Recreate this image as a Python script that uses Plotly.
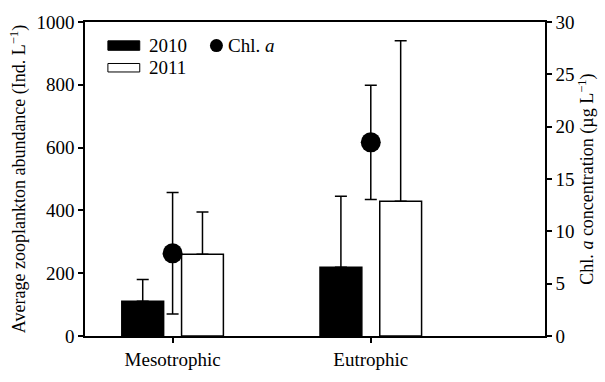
import plotly.graph_objects as go

categories = ["Mesotrophic", "Eutrophic"]
abund_2010 = [111, 219]
abund_2010_err = [69, 226]
abund_2011 = [260, 429]
abund_2011_err = [135, 511]
chl_a = [7.9, 18.5]
chl_a_err = [5.8, 5.45]

W, H = 605, 382
L, R, T, B = 85, 547, 17, 350
FONT = "Liberation Serif"
TICK_SIZE = 19
TITLE_SIZE = 18

def px(x):
    return (x - L) / (R - L)

def py(y):
    return (B - y) / (B - T)

fig = go.Figure()
fig.add_trace(go.Bar(
    x=categories, y=abund_2010, name="2010",
    marker=dict(color="black", line=dict(color="black", width=1.5)),
    error_y=dict(type="data", array=abund_2010_err, symmetric=False,
                 arrayminus=[0, 0], color="black", thickness=1.5, width=6),
    showlegend=False,
))
fig.add_trace(go.Bar(
    x=categories, y=abund_2011, name="2011",
    marker=dict(color="white", line=dict(color="black", width=1.5)),
    error_y=dict(type="data", array=abund_2011_err, symmetric=False,
                 arrayminus=[0, 0], color="black", thickness=1.5, width=6),
    showlegend=False,
))
fig.add_trace(go.Scatter(
    x=categories, y=chl_a, name="Chl. a", yaxis="y2", mode="markers",
    marker=dict(color="black", size=20),
    error_y=dict(type="data", array=chl_a_err, color="black", thickness=1.5, width=6),
    showlegend=False,
))

axis_common = dict(showline=True, linecolor="black", linewidth=1.5, ticks="outside",
                   ticklen=5, tickwidth=1.5, tickcolor="black", showgrid=False,
                   zeroline=False, tickfont=dict(family=FONT, size=TICK_SIZE, color="black"))

fig.update_layout(
    width=W, height=H,
    margin=dict(l=L, r=W - R, t=T, b=H - B),
    paper_bgcolor="white", plot_bgcolor="white",
    barmode="group", bargap=0.397, bargroupgap=0.3,
    font=dict(family=FONT, size=TICK_SIZE, color="black"),
    xaxis=dict(**axis_common, mirror=True, range=[-0.442, 1.879]),
    yaxis=dict(**axis_common, range=[0, 1000], tickvals=[0, 200, 400, 600, 800, 1000],
               title=dict(text="Average zooplankton abundance (Ind. L<sup>−1</sup>)",
                          font=dict(family=FONT, size=TITLE_SIZE), standoff=6)),
    yaxis2=dict(**axis_common, overlaying="y", side="right", range=[0, 30],
                tickvals=[0, 5, 10, 15, 20, 25, 30],
                title=dict(text="Chl. <i>a</i> concentration (µg L<sup>−1</sup>)",
                           font=dict(family=FONT, size=TITLE_SIZE), standoff=6)),
)

# manual legend
shapes = [
    dict(type="rect", xref="paper", yref="paper", x0=px(108), x1=px(140), y0=py(47), y1=py(37),
         fillcolor="black", line=dict(color="black", width=1)),
    dict(type="rect", xref="paper", yref="paper", x0=px(108), x1=px(140), y0=py(70), y1=py(61),
         fillcolor="white", line=dict(color="black", width=1)),
    dict(type="circle", xref="paper", yref="paper", xsizemode="pixel", ysizemode="pixel",
         xanchor=px(217), yanchor=py(42), x0=-6.5, x1=6.5, y0=-6.5, y1=6.5,
         fillcolor="black", line=dict(color="black", width=0)),
]
annotations = [
    dict(text="2010", x=px(147), y=py(42), xref="paper", yref="paper", xanchor="left",
         yanchor="middle", showarrow=False, font=dict(family=FONT, size=TICK_SIZE)),
    dict(text="2011", x=px(147), y=py(65), xref="paper", yref="paper", xanchor="left",
         yanchor="middle", showarrow=False, font=dict(family=FONT, size=TICK_SIZE)),
    dict(text="Chl. <i>a</i>", x=px(227), y=py(42), xref="paper", yref="paper", xanchor="left",
         yanchor="middle", showarrow=False, font=dict(family=FONT, size=TICK_SIZE)),
]
fig.update_layout(shapes=shapes, annotations=annotations)

fig.write_html("out.html")
